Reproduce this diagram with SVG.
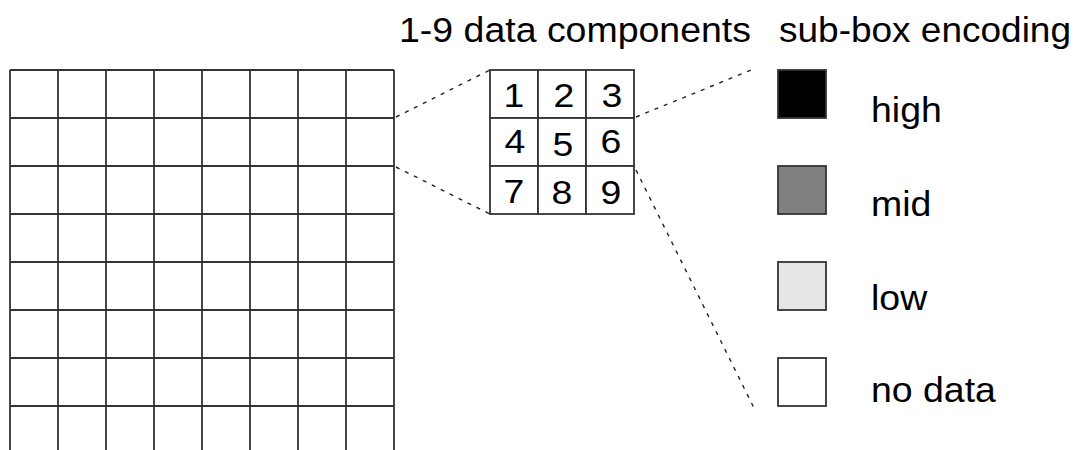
<svg xmlns="http://www.w3.org/2000/svg" width="1079" height="450" viewBox="0 0 1079 450">
  <style>
    .grid line { stroke: #333; stroke-width: 1.8; }
    .cell { fill: #fff; stroke: #333; stroke-width: 1.8; }
    .dash { stroke: #222; stroke-width: 1.4; stroke-dasharray: 4 6; fill: none; }
    .txt { font-family: "Liberation Sans", Arial, sans-serif; fill: #000; }
    .head { font-size: 35.5px; }
    .digit { font-size: 34px; text-anchor: middle; }
    .label { font-size: 35px; }
    .swatch { stroke: #333; stroke-width: 1.8; }
  </style>
  <rect width="1079" height="450" fill="#fff"/>

  <!-- large data grid -->
  <g id="grid" class="grid">
    <line x1="10" y1="70" x2="10" y2="450"/>
    <line x1="58" y1="70" x2="58" y2="450"/>
    <line x1="106" y1="70" x2="106" y2="450"/>
    <line x1="154" y1="70" x2="154" y2="450"/>
    <line x1="202" y1="70" x2="202" y2="450"/>
    <line x1="250" y1="70" x2="250" y2="450"/>
    <line x1="298" y1="70" x2="298" y2="450"/>
    <line x1="346" y1="70" x2="346" y2="450"/>
    <line x1="394" y1="70" x2="394" y2="450"/>
    <line x1="10" y1="70" x2="394" y2="70"/>
    <line x1="10" y1="118" x2="394" y2="118"/>
    <line x1="10" y1="166" x2="394" y2="166"/>
    <line x1="10" y1="214" x2="394" y2="214"/>
    <line x1="10" y1="262" x2="394" y2="262"/>
    <line x1="10" y1="310" x2="394" y2="310"/>
    <line x1="10" y1="358" x2="394" y2="358"/>
    <line x1="10" y1="406" x2="394" y2="406"/>
  </g>

  <!-- zoom connectors -->
  <g id="connectors">
    <line class="dash" x1="396" y1="117" x2="490" y2="70"/>
    <line class="dash" x1="396" y1="167" x2="490" y2="214"/>
    <line class="dash" x1="636" y1="117" x2="756" y2="68"/>
    <line class="dash" x1="636" y1="170" x2="754" y2="408"/>
  </g>

  <!-- 3x3 sub-box of data components -->
  <g id="subbox">
    <rect class="cell" x="490" y="70" width="48" height="48"/>
    <rect class="cell" x="538" y="70" width="48" height="48"/>
    <rect class="cell" x="586" y="70" width="48" height="48"/>
    <rect class="cell" x="490" y="118" width="48" height="48"/>
    <rect class="cell" x="538" y="118" width="48" height="48"/>
    <rect class="cell" x="586" y="118" width="48" height="48"/>
    <rect class="cell" x="490" y="166" width="48" height="48"/>
    <rect class="cell" x="538" y="166" width="48" height="48"/>
    <rect class="cell" x="586" y="166" width="48" height="48"/>
    <text class="txt digit" transform="translate(514,107) scale(1.1,1)">1</text>
    <text class="txt digit" transform="translate(564,107) scale(1.1,1)">2</text>
    <text class="txt digit" transform="translate(612,107) scale(1.1,1)">3</text>
    <text class="txt digit" transform="translate(515,153) scale(1.1,1)">4</text>
    <text class="txt digit" transform="translate(563,156) scale(1.1,1)">5</text>
    <text class="txt digit" transform="translate(611,153) scale(1.1,1)">6</text>
    <text class="txt digit" transform="translate(514,203) scale(1.1,1)">7</text>
    <text class="txt digit" transform="translate(562,204) scale(1.1,1)">8</text>
    <text class="txt digit" transform="translate(611,204) scale(1.1,1)">9</text>
  </g>

  <!-- headers -->
  <text id="head-components" class="txt head" x="399" y="41.5" textLength="352" lengthAdjust="spacingAndGlyphs">1-9 data components</text>
  <text id="head-encoding" class="txt head" x="779" y="41.5" textLength="292" lengthAdjust="spacingAndGlyphs">sub-box encoding</text>

  <!-- legend -->
  <g id="legend-high">
    <rect class="swatch" x="778" y="70" width="48" height="48" fill="#000"/>
    <text class="txt label" transform="translate(871,121.5) scale(1.07,1)">high</text>
  </g>
  <g id="legend-mid">
    <rect class="swatch" x="778" y="166" width="48" height="48" fill="#808080"/>
    <text class="txt label" transform="translate(871,216) scale(1.07,1)">mid</text>
  </g>
  <g id="legend-low">
    <rect class="swatch" x="778" y="262" width="48" height="48" fill="#e6e6e6"/>
    <text class="txt label" transform="translate(871,310) scale(1.07,1)">low</text>
  </g>
  <g id="legend-none">
    <rect class="swatch" x="778" y="358" width="48" height="48" fill="#fff"/>
    <text class="txt label" transform="translate(871,402) scale(1.07,1)">no data</text>
  </g>
</svg>
